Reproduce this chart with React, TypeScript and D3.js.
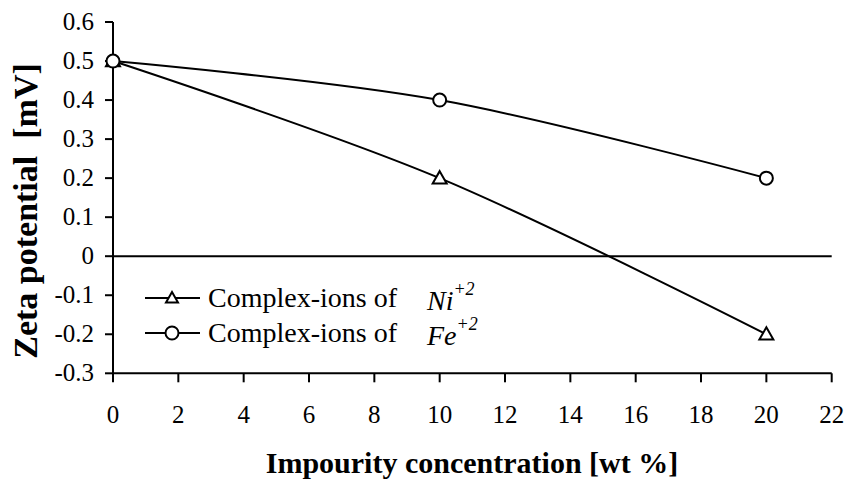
import React from "react";
import * as d3 from "d3";

const W = 845;
const H = 479;

// Impurity concentration [wt %]
const concentration = [0, 10, 20];
// Zeta potential [mV]
const niSeries = [0.5, 0.2, -0.2];
const feSeries = [0.5, 0.4, 0.2];

const xTicks = [0, 2, 4, 6, 8, 10, 12, 14, 16, 18, 20, 22];
const yTicks = [0.6, 0.5, 0.4, 0.3, 0.2, 0.1, 0, -0.1, -0.2, -0.3];

const legendItems = [
  { label: "Complex-ions of", ion: "Ni", charge: "+2", marker: "triangle" },
  { label: "Complex-ions of", ion: "Fe", charge: "+2", marker: "circle" },
];

const FONT = "Liberation Serif, Times New Roman, serif";

const left = 113;
const right = 831.7;
const top = 22;
const bottom = 373.3;

export default function App() {
  const x = d3.scaleLinear().domain([0, 22]).range([left, right]);
  const y = d3.scaleLinear().domain([-0.3, 0.6]).range([bottom, top]);

  const line = d3
    .line<[number, number]>()
    .x((d) => x(d[0]))
    .y((d) => y(d[1]))
    .curve(d3.curveCatmullRom.alpha(0));

  const niPts = concentration.map((c, i) => [c, niSeries[i]] as [number, number]);
  const fePts = concentration.map((c, i) => [c, feSeries[i]] as [number, number]);

  const tri = (cx: number, cy: number, s = 7) =>
    `M${cx},${cy - s} L${cx + s},${cy + s * 0.75} L${cx - s},${cy + s * 0.75} Z`;

  // plain hyphen for negatives
  const fmt = (v: number) => (v === 0 ? "0" : v.toFixed(1));

  return (
    <svg
      width={W}
      height={H}
      style={{ position: "absolute", left: 0, top: 0, background: "#fff", fontFamily: FONT }}
    >
      <rect width={W} height={H} fill="#fff" />

      {/* zero reference line */}
      <line x1={x(0)} x2={x(22)} y1={y(0)} y2={y(0)} stroke="#000" strokeWidth={2} />

      {/* y axis */}
      <line x1={left} x2={left} y1={top} y2={bottom} stroke="#000" strokeWidth={2} />
      {yTicks.map((t) => (
        <g key={"y" + t}>
          <line x1={left - 8} x2={left} y1={y(t)} y2={y(t)} stroke="#000" strokeWidth={2} />
          <text x={94} y={y(t) + 8} textAnchor="end" fontSize={25}>
            {fmt(t)}
          </text>
        </g>
      ))}

      {/* x axis */}
      <line x1={left} x2={right} y1={bottom} y2={bottom} stroke="#000" strokeWidth={2} />
      {xTicks.map((t) => (
        <g key={"x" + t}>
          <line x1={x(t)} x2={x(t)} y1={bottom} y2={bottom + 9} stroke="#000" strokeWidth={2} />
          <text x={x(t)} y={423} textAnchor="middle" fontSize={25}>
            {t}
          </text>
        </g>
      ))}

      {/* series lines */}
      <path d={line(niPts) ?? ""} fill="none" stroke="#000" strokeWidth={2} />
      <path d={line(fePts) ?? ""} fill="none" stroke="#000" strokeWidth={2} />

      {/* markers */}
      {niPts.map((p, i) => (
        <path key={"n" + i} d={tri(x(p[0]), y(p[1]))} fill="#fff" stroke="#000" strokeWidth={2} />
      ))}
      {fePts.map((p, i) => (
        <circle key={"f" + i} cx={x(p[0])} cy={y(p[1])} r={6.5} fill="#fff" stroke="#000" strokeWidth={2} />
      ))}

      {/* legend */}
      {legendItems.map((item, i) => {
        const ly = 298 + i * 35;
        return (
          <g key={"l" + i}>
            <line x1={145} x2={200} y1={ly} y2={ly} stroke="#000" strokeWidth={2} />
            {item.marker === "triangle" ? (
              <path d={tri(172, ly, 6)} fill="#fff" stroke="#000" strokeWidth={2} />
            ) : (
              <circle cx={172} cy={ly} r={6.5} fill="#fff" stroke="#000" strokeWidth={2} />
            )}
            <text x={208} y={ly + 9} fontSize={28}>
              {item.label}
            </text>
            <text x={427} y={ly + 12} fontSize={28} fontStyle="italic">
              {item.ion}
              <tspan fontSize={18} dy={-15} fontStyle="italic">
                {item.charge}
              </tspan>
            </text>
          </g>
        );
      })}

      {/* axis titles */}
      <text x={472} y={473} textAnchor="middle" fontSize={30} fontWeight="bold">
        Impourity concentration [wt %]
      </text>
      <text
        transform={`translate(37, 211) rotate(-90)`}
        textAnchor="middle"
        fontSize={34}
        fontWeight="bold"
        style={{ whiteSpace: "pre" }}
      >
        {"Zeta potential  [mV]"}
      </text>
    </svg>
  );
}
